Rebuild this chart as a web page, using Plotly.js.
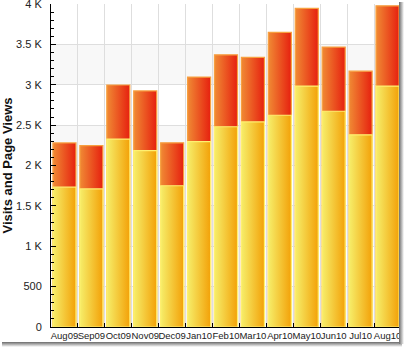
<!DOCTYPE html>
<html><head><meta charset="utf-8">
<script src="https://cdn.plot.ly/plotly-3.0.1.min.js"></script>
<style>
html,body{margin:0;padding:0;background:#fff;}
#wrap{position:relative;width:404px;height:347px;overflow:hidden;}
#frame{position:absolute;left:0;top:0;width:399px;height:342px;overflow:hidden;}
#chart{width:404px;height:347px;}
#shB{position:absolute;left:2px;top:342px;width:400px;height:5px;background:linear-gradient(#6a6a6a,#fff);}
#shR{position:absolute;left:399px;top:2px;width:5px;height:342px;background:linear-gradient(to right,#6a6a6a,#fff);}
</style></head>
<body>
<div id="wrap"><div id="frame"><div id="chart"></div></div><div id="shB"></div><div id="shR"></div></div>
<script>
var months = ['Aug09','Sep09','Oct09','Nov09','Dec09','Jan10','Feb10','Mar10','Apr10','May10','Jun10','Jul10','Aug10'];
var visits = [1732, 1710, 2327, 2185, 1749, 2295, 2480, 2540, 2622, 2984, 2672, 2380, 2984];
var pageViews = [2280, 2246, 2997, 2924, 2281, 3095, 3370, 3340, 3648, 3945, 3467, 3168, 3978];
var yTickVals = [0, 500, 1000, 1500, 2000, 2500, 3000, 3500, 4000];
var yTickText = ['0', '500', '1 K', '1.5 K', '2 K', '2.5 K', '3 K', '3.5 K', '4 K'];

var traces = [
  {type:'bar', x:months, y:pageViews, name:'Page Views',
   marker:{color:'#ea5020', line:{color:'#f7a040', width:1.2}}, hoverinfo:'y'},
  {type:'bar', x:months, y:visits, name:'Visits',
   marker:{color:'#f5c830', line:{color:'#fff070', width:1.2}}, hoverinfo:'y'}
];
var bands = [];
for (var i = 0; i < yTickVals.length - 1; i += 2) {
  bands.push({type:'rect', xref:'paper', yref:'y', x0:0, x1:1, y0:yTickVals[i], y1:yTickVals[i+1],
    fillcolor:'#f8f8f8', line:{width:0}, layer:'below'});
}
var layout = {
  width:404, height:347,
  margin:{l:51, r:3, t:4, b:20},
  paper_bgcolor:'rgba(0,0,0,0)', plot_bgcolor:'#fff',
  barmode:'overlay', bargap:0.145, showlegend:false,
  font:{family:'Liberation Sans, Arial, sans-serif', color:'#222'},
  shapes:bands,
  xaxis:{type:'category', tickson:'boundaries', showgrid:true, gridcolor:'#dedede', gridwidth:1,
    ticks:'inside', ticklen:4, tickcolor:'#000', showline:true, linecolor:'#000', linewidth:1,
    tickangle:0, tickfont:{size:9.5, color:'#222'}, zeroline:false, range:[-0.5, 12.5], fixedrange:true},
  yaxis:{range:[0,4000], tickmode:'array', tickvals:yTickVals, ticktext:yTickText, showgrid:true, gridcolor:'#dedede',
    ticks:'inside', ticklen:5, tickcolor:'#000', showline:true, linecolor:'#000', linewidth:1,
    tickfont:{size:11, color:'#222'}, ticklabelstandoff:6, ticklabeloverflow:'allow', zeroline:false, fixedrange:true,
    minor:{dtick:100, ticks:'inside', ticklen:3, tickcolor:'#000', showgrid:false},
    title:{text:'Visits and Page Views', font:{size:13, color:'#111', weight:'bold'}, standoff:6}}
};
Plotly.newPlot('chart', traces, layout, {displayModeBar:false, staticPlot:true}).then(function(gd){
  var svg = gd.querySelector('svg.main-svg');
  var ns = 'http://www.w3.org/2000/svg';
  var defs = svg.querySelector('defs') || svg.insertBefore(document.createElementNS(ns,'defs'), svg.firstChild);
  function grad(id, c1, c2){
    var g = document.createElementNS(ns,'linearGradient');
    g.setAttribute('id', id); g.setAttribute('x1','0'); g.setAttribute('x2','1'); g.setAttribute('y1','0'); g.setAttribute('y2','0');
    [[0,c1],[1,c2]].forEach(function(s){
      var st = document.createElementNS(ns,'stop');
      st.setAttribute('offset', s[0]); st.setAttribute('stop-color', s[1]); g.appendChild(st);
    });
    defs.appendChild(g);
  }
  grad('gRed', '#f08a34', '#e6200f');
  grad('gYel', '#f6ee6a', '#f3a108');
  var tr = gd.querySelectorAll('.barlayer .trace');
  var ids = ['gRed','gYel'];
  tr.forEach(function(t, k){
    t.querySelectorAll('path').forEach(function(p){ p.style.fill = 'url(#' + ids[k] + ')'; });
  });
});
</script>
</body></html>
